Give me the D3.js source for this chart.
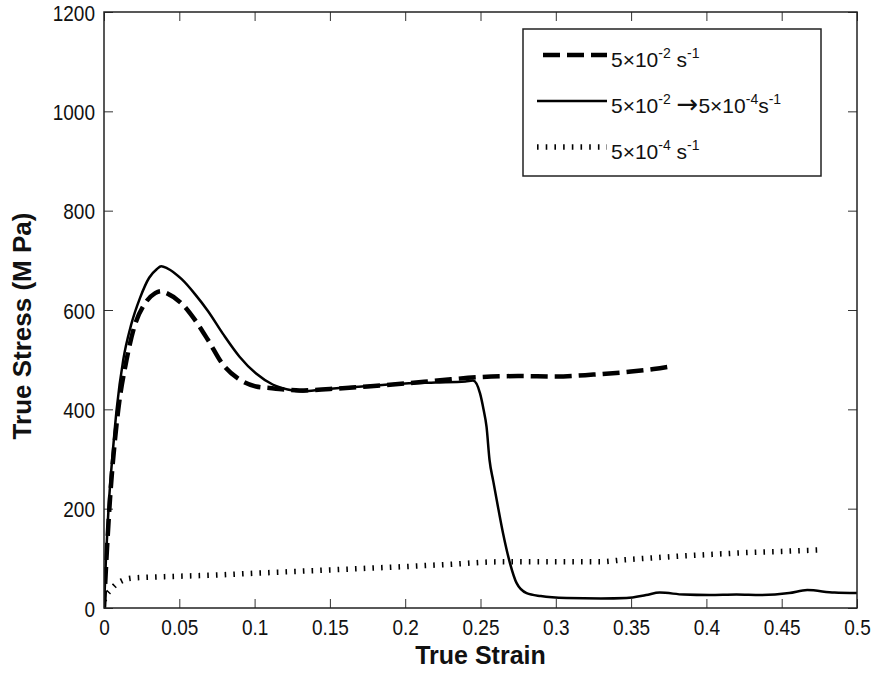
<!DOCTYPE html>
<html>
<head>
<meta charset="utf-8">
<script src="https://cdn.jsdelivr.net/npm/d3@7"></script>
<style>
  body { margin: 0; background: #fff; }
  text { font-family: Arial, "Liberation Sans", Helvetica, sans-serif; fill: #111; }
</style>
</head>
<body>
<div id="chart"></div>
<script>
// strain-rate jump test: true stress vs true strain

// 5x10^-2 s^-1 (dashed)
var strainFast = [0, 0.002, 0.004, 0.007, 0.0095, 0.015, 0.02, 0.0272, 0.034, 0.038, 0.0416, 0.0516, 0.0604, 0.069, 0.079, 0.09, 0.101, 0.11, 0.12, 0.13, 0.15, 0.175, 0.2, 0.225, 0.25, 0.275, 0.3, 0.325, 0.35, 0.365, 0.378];
var stressFast = [0, 120, 220, 330, 400, 500, 565, 613, 634, 638, 634, 613, 580, 540, 490, 460, 446, 443, 440, 438, 441, 446, 452, 459, 465, 467, 466, 470, 476, 481, 487];

// 5x10^-2 -> 5x10^-4 s^-1 (solid)
var strainJump = [0, 0.0013, 0.003, 0.006, 0.0084, 0.0128, 0.018, 0.024, 0.03, 0.035, 0.038, 0.042, 0.0516, 0.0604, 0.069, 0.079, 0.09, 0.101, 0.112, 0.122, 0.132, 0.145, 0.16, 0.18, 0.2, 0.22, 0.24, 0.245, 0.2497, 0.252, 0.254, 0.256, 0.2585, 0.2608, 0.265, 0.2696, 0.274, 0.2806, 0.29, 0.307, 0.33, 0.347, 0.36, 0.369, 0.385, 0.402, 0.42, 0.436, 0.455, 0.467, 0.485, 0.5];
var stressJump = [0, 100, 200, 320, 400, 500, 570, 625, 665, 682, 688, 684, 662, 632, 598, 552, 506, 472, 450, 440, 436, 440, 444, 448, 452, 454, 456, 458, 432, 400, 365, 298, 255, 217, 150, 90, 50, 30, 24, 20, 19, 20, 26, 31, 27, 26, 27, 26, 30, 36, 31, 30];

// 5x10^-4 s^-1 (dotted)
var strainSlow = [0, 0.002, 0.004, 0.0073, 0.012, 0.018, 0.03, 0.05, 0.0715, 0.1, 0.13, 0.16, 0.197, 0.23, 0.263, 0.3, 0.329, 0.345, 0.36, 0.38, 0.404, 0.43, 0.45, 0.476];
var stressSlow = [15, 28, 35, 46, 55, 60, 62, 64, 66, 70, 74, 78, 83, 88, 93, 93, 93, 97, 100, 104, 108, 112, 114, 117];

var xTicks = [0, 0.05, 0.1, 0.15, 0.2, 0.25, 0.3, 0.35, 0.4, 0.45, 0.5];
var yTicks = [0, 200, 400, 600, 800, 1000, 1200];

// legend pieces: [text, kind] with kind 0 = normal, 1 = superscript, 2 = arrow
var legendNames = [
    [["5×10", 0], ["-2", 1], [" s", 0], ["-1", 1]],
    [["5×10", 0], ["-2", 1], [" ", 0], ["→", 2], ["5×10", 0], ["-4", 1], ["s", 0], ["-1", 1]],
    [["5×10", 0], ["-4", 1], [" s", 0], ["-1", 1]]
];

//////////////////////////////////////////////////////////////////////////////

var width = 872, height = 675;
var margin = {left: 104, right: 15, top: 12, bottom: 67};

var xScale = d3.scaleLinear().domain([0, 0.5]).range([margin.left, width - margin.right]);
var yScale = d3.scaleLinear().domain([0, 1200]).range([height - margin.bottom, margin.top]);

var svg = d3.select("#chart")
    .append("svg")
    .attr("width", width)
    .attr("height", height);

function zipSeries(xs, ys) {
    return xs.map(function(x, i) { return [x, ys[i]]; });
}

var series = [
    {data: zipSeries(strainFast, stressFast), width: 4.5, dash: "17,7"},
    {data: zipSeries(strainJump, stressJump), width: 2.5, dash: null},
    {data: zipSeries(strainSlow, stressSlow), width: 5.5, dash: "1.6,7.1"}
];

// ticks (inward, on all four sides)
var tickLen = 9;
var x0 = xScale.range()[0], x1 = xScale.range()[1];
var y0 = yScale.range()[0], y1 = yScale.range()[1];

function styleAxis(g) {
    g.select(".domain").remove();
    g.selectAll(".tick line").attr("stroke", "#333").attr("stroke-width", 1);
}

var xAxis = svg.append("g")
    .attr("transform", "translate(0," + y0 + ")")
    .call(d3.axisBottom(xScale).tickValues(xTicks).tickSize(-tickLen).tickFormat(function(d) { return String(d); }))
    .call(styleAxis);
xAxis.selectAll(".tick text")
    .attr("y", null).attr("dy", null)
    .attr("transform", "translate(0,27) scale(1,1.15)")
    .style("font-size", "19px");

svg.append("g")
    .attr("transform", "translate(0," + y1 + ")")
    .call(d3.axisTop(xScale).tickValues(xTicks).tickSize(-tickLen).tickFormat(""))
    .call(styleAxis);

var yAxis = svg.append("g")
    .attr("transform", "translate(" + x0 + ",0)")
    .call(d3.axisLeft(yScale).tickValues(yTicks).tickSize(-tickLen).tickFormat(function(d) { return String(d); }))
    .call(styleAxis);
yAxis.selectAll(".tick text")
    .attr("x", null).attr("dy", null)
    .attr("transform", "translate(-9,8) scale(1,1.15)")
    .style("font-size", "19px");

svg.append("g")
    .attr("transform", "translate(" + x1 + ",0)")
    .call(d3.axisRight(yScale).tickValues(yTicks).tickSize(-tickLen).tickFormat(""))
    .call(styleAxis);

// curves
var line = d3.line()
    .x(function(d) { return xScale(d[0]); })
    .y(function(d) { return yScale(d[1]); })
    .curve(d3.curveMonotoneX);

svg.append("clipPath").attr("id", "plot-clip")
    .append("rect")
    .attr("x", x0).attr("y", y1)
    .attr("width", x1 - x0).attr("height", y0 - y1);

svg.append("g")
    .attr("clip-path", "url(#plot-clip)")
    .selectAll("path")
    .data(series)
    .enter()
    .append("path")
    .attr("d", function(d) { return line(d.data); })
    .attr("fill", "none")
    .attr("stroke", "#000")
    .attr("stroke-width", function(d) { return d.width; })
    .attr("stroke-dasharray", function(d) { return d.dash; })
    .attr("stroke-linejoin", "round");

// frame
svg.append("rect")
    .attr("x", x0).attr("y", y1)
    .attr("width", x1 - x0).attr("height", y0 - y1)
    .attr("fill", "none")
    .attr("stroke", "#222")
    .attr("stroke-width", 1.5);

// legend
var legend = svg.append("g");
legend.append("rect")
    .attr("x", 523).attr("y", 29)
    .attr("width", 298).attr("height", 147)
    .attr("fill", "#fff")
    .attr("stroke", "#222")
    .attr("stroke-width", 1.5);

var legendRowY = [55, 101, 147];
var legendLineStart = [543, 537, 537];

series.forEach(function(s, i) {
    legend.append("line")
        .attr("x1", legendLineStart[i]).attr("x2", 607)
        .attr("y1", legendRowY[i]).attr("y2", legendRowY[i])
        .attr("stroke", "#000")
        .attr("stroke-width", s.width)
        .attr("stroke-dasharray", s.dash);

    var t = legend.append("text")
        .attr("x", 611)
        .attr("y", legendRowY[i] + 12)
        .style("font-size", "21px");
    var raised = 0;
    legendNames[i].forEach(function(part) {
        var shift = part[1] === 1 ? -9 : 0;
        var span = t.append("tspan")
            .attr("dy", shift - raised)
            .style("font-size", part[1] === 1 ? "14px" : "21px")
            .text(part[0]);
        if (part[1] === 2) span.style("font-family", "DejaVu Sans, sans-serif").style("font-size", "26px");
        raised = shift;
    });
});

// axis titles
svg.append("text")
    .attr("x", (x0 + x1) / 2)
    .attr("y", 664)
    .attr("text-anchor", "middle")
    .style("font-size", "25px")
    .style("font-weight", "bold")
    .text("True Strain");

svg.append("text")
    .attr("transform", "translate(31,326) rotate(-90)")
    .attr("text-anchor", "middle")
    .style("font-size", "26px")
    .style("font-weight", "bold")
    .text("True Stress (M Pa)");
</script>
</body>
</html>
